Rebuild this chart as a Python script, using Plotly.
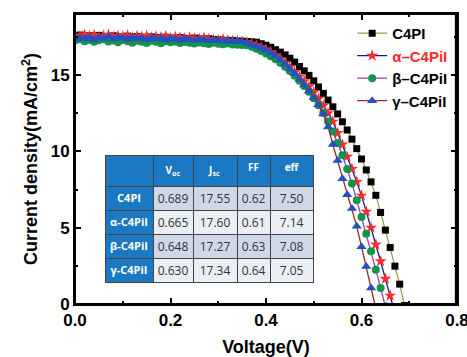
import plotly.graph_objects as go

# ---------------- data ----------------
voltage_step = 0.01  # measurement grid (V)

j_c4pi = [17.55, 17.62, 17.50, 17.58, 17.47, 17.60, 17.52, 17.45, 17.57, 17.50,
          17.48, 17.55, 17.44, 17.52, 17.47, 17.41, 17.50, 17.46, 17.40, 17.48,
          17.43, 17.38, 17.45, 17.40, 17.36, 17.42, 17.37, 17.33, 17.38, 17.32,
          17.30, 17.28, 17.25, 17.27, 17.22, 17.22, 17.20, 17.18, 17.15, 17.05,
          16.95, 16.82, 16.66, 16.50, 16.32, 16.10, 15.85, 15.56, 15.28, 14.98,
          14.62, 14.22, 13.80, 13.36, 12.92, 12.45, 11.94, 11.40, 10.80, 10.18,
          9.50, 8.78, 8.00, 7.12, 6.00, 4.84, 3.70, 2.48, 1.30, -0.10]

j_alpha = [17.60, 17.52, 17.66, 17.55, 17.62, 17.48, 17.58, 17.64, 17.50, 17.57,
           17.53, 17.60, 17.47, 17.56, 17.51, 17.58, 17.45, 17.52, 17.48, 17.55,
           17.42, 17.50, 17.46, 17.40, 17.47, 17.41, 17.38, 17.44, 17.36, 17.33,
           17.30, 17.35, 17.28, 17.25, 17.22, 17.19, 17.15, 17.05, 16.95, 16.82,
           16.68, 16.50, 16.30, 16.05, 15.78, 15.50, 15.20, 14.90, 14.60, 14.25,
           13.88, 13.45, 13.00, 12.50, 11.95, 11.20, 10.45, 9.65, 8.85, 8.00,
           7.10, 6.05, 5.00, 3.90, 2.80, 1.65, 0.55, -0.60]

j_beta = [17.27, 17.35, 17.22, 17.30, 17.18, 17.28, 17.34, 17.20, 17.26, 17.15,
          17.30, 17.22, 17.12, 17.25, 17.18, 17.10, 17.24, 17.19, 17.08, 17.21,
          17.15, 17.20, 17.10, 17.17, 17.12, 17.06, 17.14, 17.09, 17.04, 17.11,
          17.05, 17.02, 17.06, 17.00, 16.98, 16.97, 16.95, 16.85, 16.72, 16.58,
          16.42, 16.24, 16.03, 15.80, 15.55, 15.27, 14.96, 14.63, 14.28, 13.90,
          13.48, 13.02, 12.52, 11.96, 11.30, 10.55, 9.75, 8.85, 7.90, 6.80,
          5.70, 4.60, 3.45, 2.25, 1.05, -0.15]

j_gamma = [17.34, 17.45, 17.38, 17.50, 17.32, 17.44, 17.40, 17.52, 17.36, 17.46,
           17.41, 17.35, 17.48, 17.39, 17.43, 17.33, 17.45, 17.37, 17.42, 17.30,
           17.40, 17.35, 17.28, 17.38, 17.32, 17.26, 17.35, 17.29, 17.24, 17.30,
           17.25, 17.22, 17.26, 17.20, 17.20, 17.18, 17.08, 16.98, 16.88, 16.76,
           16.62, 16.45, 16.25, 16.00, 15.70, 15.40, 15.08, 14.72, 14.35, 13.95,
           13.52, 13.05, 12.45, 11.60, 10.45, 9.40, 8.20, 7.15, 6.25, 5.10,
           3.75, 2.45, 1.05, -0.30]

series_names = ["C4PI", "<span style='color:#ff2a2a'>α–C4PiI</span>", "β–C4PiI", "γ–C4PiI"]

# table
row_labels = ["C4PI", "α-C4PiI", "β-C4PiI", "γ-C4PiI"]
table_header = ["", "V<sub>oc</sub>", "J<sub>sc</sub>", "FF", "eff"]
voc = ["0.689", "0.665", "0.648", "0.630"]
jsc = ["17.55", "17.60", "17.27", "17.34"]
ff = ["0.62", "0.61", "0.63", "0.64"]
eff = ["7.50", "7.14", "7.08", "7.05"]

x_ticks = [0.0, 0.2, 0.4, 0.6, 0.8]
x_ticklabels = ["0.0", "0.2", "0.4", "0.6", "0.8"]
y_ticks = [0, 5, 10, 15]

# ---------------- styling ----------------
styles = [
    dict(symbol="square", color="#000000", size=7, line="#9c9c52"),
    dict(symbol="star", color="#ff2a2a", size=9, line="#1c1c80"),
    dict(symbol="circle", color="#13944a", size=8, line="#a040a8"),
    dict(symbol="triangle-up", color="#2550c0", size=9, line="#a02828"),
]

fig = go.Figure()
for ys, name, st in zip([j_c4pi, j_alpha, j_beta, j_gamma], series_names, styles):
    xs = [round(i * voltage_step, 2) for i in range(len(ys))]
    fig.add_trace(go.Scatter(
        x=xs, y=ys, name=name, mode="lines+markers",
        line=dict(color=st["line"], width=1.3),
        marker=dict(symbol=st["symbol"], color=st["color"], size=st["size"], line=dict(width=0)),
        cliponaxis=True,
    ))

# table geometry (paper coords)
plot_l, plot_r, plot_t, plot_b = 75, 457, 14, 304
W = plot_r - plot_l
H = plot_b - plot_t
tx0, tx1, ty0 = 105, 313, 155

blue = "#1b79c3"
c_dark = "#cfd8e7"
c_light = "#eaeef5"
row_cols = [c_dark, c_light, c_dark, c_light]

fig.add_trace(go.Table(
    domain=dict(x=[(tx0 - plot_l) / W, (tx1 - plot_l) / W],
                y=[0, (plot_b - ty0) / H]),
    columnwidth=[48, 40, 44, 33, 43],
    header=dict(values=table_header, fill_color=blue, height=24,
                line=dict(color="#444444", width=1), align="center",
                font=dict(color="white", size=10, family="Open Sans", weight="bold")),
    cells=dict(values=[row_labels, voc, jsc, ff, eff],
               fill_color=[[blue] * 4, row_cols, row_cols, row_cols, row_cols],
               line=dict(color="#444444", width=1), align="center", height=24,
               font=dict(color=[["white"] * 4, ["#333333"] * 4, ["#333333"] * 4,
                                ["#333333"] * 4, ["#333333"] * 4],
                         size=[11, 12, 12, 12, 12], family="Open Sans",
                         weight=["bold", "normal", "normal", "normal", "normal"])),
))

axis_common = dict(
    showline=True, linecolor="black", linewidth=2, mirror="ticks",
    ticks="inside", ticklen=6, tickwidth=1.5, tickcolor="black",
    showgrid=False, zeroline=False, automargin=False, ticklabeloverflow="allow",
    tickfont=dict(family="Arial", size=17, color="black", weight="bold"),
)

fig.update_layout(
    width=467, height=357,
    margin=dict(l=plot_l, r=467 - plot_r, t=plot_t, b=357 - plot_b),
    paper_bgcolor="white", plot_bgcolor="white",
    xaxis=dict(range=[0, 0.8], tickvals=x_ticks, ticktext=x_ticklabels,
               minor=dict(dtick=0.1, ticks="inside", ticklen=3, tickwidth=1.5, tickcolor="black"),
               title=dict(text="Voltage(V)", standoff=14,
                          font=dict(family="Arial", size=18, color="black", weight="bold")),
               **axis_common),
    yaxis=dict(range=[0, 19], tickvals=y_ticks,
               minor=dict(dtick=2.5, ticks="inside", ticklen=3, tickwidth=1.5, tickcolor="black"),
               title=dict(text="Current density(mA/cm<sup>2</sup>)", standoff=8,
                          font=dict(family="Arial", size=18, color="black", weight="bold")),
               **axis_common),
    legend=dict(x=0.99, xanchor="right", y=0.99, yanchor="top",
                bgcolor="rgba(0,0,0,0)", borderwidth=0,
                font=dict(family="Arial", size=15, color="black", weight="bold"),
                tracegroupgap=0),
    shapes=[dict(type="rect", xref="paper", yref="paper", x0=0, x1=1, y0=0, y1=1,
                 line=dict(color="black", width=2), layer="above"),
            dict(type="line", xref="paper", yref="paper", x0=0.997, x1=0.997, y0=0, y1=1,
                 line=dict(color="black", width=2), layer="above")],
    showlegend=True,
)

fig.write_html(
    "out.html",
    config={"displayModeBar": False},
    post_script=("document.body.style.margin='0';"
                 "document.body.style.overflow='hidden';"
                 "document.documentElement.style.overflow='hidden';"),
)
